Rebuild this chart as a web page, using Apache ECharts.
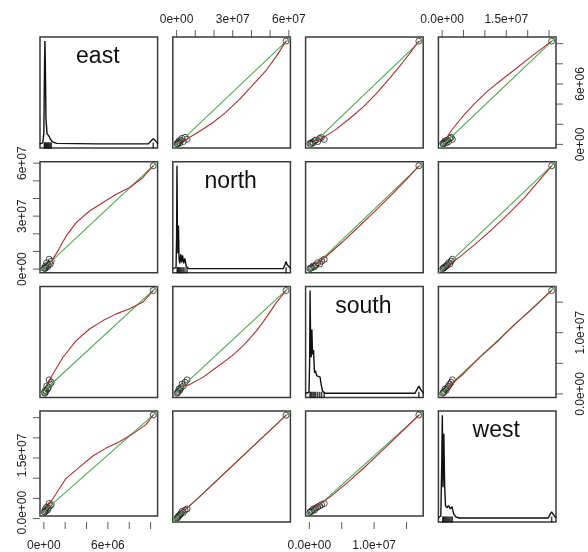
<!DOCTYPE html>
<html>
<head>
<meta charset="utf-8"/>
<title>pairs</title>
<script src="https://cdn.jsdelivr.net/npm/echarts@6/dist/echarts.min.js"></script>
<style>body{margin:0;background:#fff;}</style>
</head>
<body>
<div id="chart" style="width:588px;height:552px;"></div>
<script type="text/javascript">
// all values in millions
var names = ['east', 'north', 'south', 'west'];
var east  = [0.05, 0.1, 0.15, 0.2, 0.28, 0.35, 0.42, 0.5, 0.6, 0.7, 10.25];
var north = [0.6, 0.3, 1.8, 0.9, 3.6, 1.3, 2.3, 5.6, 2.9, 4.5, 58.5];
var south = [0.25, 0.1, 0.6, 0.4, 1.3, 0.8, 1.0, 2.3, 1.6, 1.9, 16.9];
var west  = [0.3, 0.15, 0.95, 0.5, 1.5, 0.7, 1.2, 2.4, 1.8, 2.1, 25.6];

// tick marks and labels
var eastTicks = [0, 2, 4, 6, 8, 10], eastLabelAt = [0, 6], eastLabels = ['0e+00', '6e+06'];
var northTicks = [0, 10, 20, 30, 40, 50, 60], northLabelAt = [0, 30, 60], northLabels = ['0e+00', '3e+07', '6e+07'];
var southTicks = [0, 5, 10, 15], southLabelAt = [0, 10], southLabels = ['0.0e+00', '1.0e+07'];
var westTicks = [0, 5, 10, 15, 20, 25], westLabelAt = [0, 15], westLabels = ['0.0e+00', '1.5e+07'];

// densities on the diagonal (x in millions, y relative)
var eastDensX = [-0.4, -0.1, 0.0, 0.06, 0.1, 0.14, 0.2, 0.3, 0.45, 0.6, 0.8, 1.2, 5, 9.8, 10.05, 10.25, 10.45, 10.7];
var eastDensY = [0, 0.01, 0.1, 0.7, 1.0, 0.8, 0.25, 0.1, 0.08, 0.05, 0.02, 0.005, 0, 0, 0.03, 0.05, 0.03, 0];
var northDensX = [-2.1, -0.3, 0.0, 0.2, 0.45, 0.7, 1.0, 1.3, 1.7, 2.2, 2.7, 3.2, 3.8, 4.4, 5.2, 6.5, 20, 57, 58, 58.5, 59, 61];
var northDensY = [0, 0.01, 0.3, 1.0, 0.35, 0.15, 0.42, 0.1, 0.05, 0.14, 0.06, 0.13, 0.05, 0.1, 0.02, 0, 0, 0, 0.04, 0.07, 0.04, 0];
var southDensX = [-0.6, -0.05, 0.05, 0.12, 0.22, 0.3, 0.4, 0.5, 0.65, 0.8, 0.95, 1.15, 1.4, 1.65, 1.85, 2.05, 2.4, 5, 16.3, 16.65, 16.9, 17.15, 17.6];
var southDensY = [0, 0.01, 0.3, 1.0, 0.4, 0.35, 0.62, 0.38, 0.42, 0.2, 0.22, 0.17, 0.18, 0.16, 0.08, 0.02, 0, 0, 0, 0.04, 0.07, 0.04, 0];
var westDensX = [-0.9, -0.3, -0.1, 0.05, 0.2, 0.4, 0.6, 0.8, 1.1, 1.5, 1.9, 2.3, 2.7, 3.2, 4, 10, 24.8, 25.3, 25.6, 25.9, 26.6];
var westDensY = [0, 0.02, 0.5, 1.0, 0.3, 0.82, 0.3, 0.12, 0.1, 0.12, 0.09, 0.11, 0.04, 0.01, 0, 0, 0, 0.04, 0.06, 0.04, 0];

// smoother curves, smRC = row R (y variable), column C (x variable)
var sm01x = [1.8, 5.3, 11.7, 19.3, 26.3, 33.9, 41.0, 48.0, 53.2, 58.5];
var sm01y = [0.31, 0.51, 1.23, 2.15, 3.18, 4.51, 5.95, 7.38, 8.71, 10.25];
var sm02x = [0.68, 2.03, 4.23, 6.42, 8.45, 10.48, 12.51, 14.37, 15.72, 16.9];
var sm02y = [0.31, 0.62, 1.54, 2.67, 3.79, 5.13, 6.66, 8.10, 9.23, 10.25];
var sm03x = [0.77, 2.05, 4.61, 7.68, 10.75, 14.08, 17.15, 20.22, 23.04, 25.6];
var sm03y = [0.41, 1.33, 2.67, 4.10, 5.33, 6.46, 7.48, 8.51, 9.43, 10.25];
var sm10x = [0.53, 1.31, 2.09, 3.03, 4.28, 5.54, 6.79, 8.04, 9.29, 10.25];
var sm10y = [2.6, 10.2, 18.7, 26.3, 32.9, 37.7, 42.4, 46.2, 51.9, 58.5];
var sm12x = [0.85, 2.54, 5.07, 7.61, 10.14, 12.68, 14.87, 16.9];
var sm12y = [2.3, 7.0, 15.2, 24.0, 32.8, 42.1, 50.3, 58.5];
var sm13x = [1.02, 3.84, 7.68, 11.52, 15.36, 19.2, 22.53, 25.6];
var sm13y = [1.8, 6.4, 14.0, 22.2, 31.0, 40.4, 49.7, 58.5];
var sm20x = [0.22, 0.84, 1.78, 3.03, 4.28, 5.54, 6.79, 8.04, 9.29, 10.25];
var sm20y = [1.30, 3.21, 5.95, 8.70, 10.61, 11.98, 13.08, 13.91, 15.01, 16.9];
var sm21x = [2.9, 7.0, 14.0, 21.6, 29.8, 36.3, 42.7, 48.0, 53.2, 58.5];
var sm21y = [1.18, 1.52, 2.70, 4.39, 6.25, 8.11, 10.31, 12.51, 14.87, 16.9];
var sm23x = [1.28, 5.12, 8.96, 12.8, 16.64, 20.48, 23.04, 25.6];
var sm23y = [1.01, 3.38, 6.08, 8.45, 11.15, 13.52, 15.21, 16.9];
var sm30x = [0.22, 0.84, 2.09, 3.34, 4.59, 5.84, 7.09, 8.34, 9.59, 10.25];
var sm30y = [1.13, 3.64, 9.01, 11.93, 14.85, 16.92, 18.59, 20.66, 23.14, 25.6];
var sm31x = [2.9, 11.7, 20.5, 29.3, 38.0, 46.8, 52.7, 58.5];
var sm31y = [1.54, 5.12, 8.96, 12.8, 16.64, 20.48, 23.04, 25.6];
var sm32x = [0.85, 3.38, 5.92, 8.45, 10.99, 13.52, 15.21, 16.9];
var sm32y = [1.28, 4.35, 7.94, 11.78, 15.87, 19.97, 22.78, 25.6];

var vars = [east, north, south, west];
var ticks = [eastTicks, northTicks, southTicks, westTicks];
var labelAt = [eastLabelAt, northLabelAt, southLabelAt, westLabelAt];
var labels = [eastLabels, northLabels, southLabels, westLabels];
var densX = [eastDensX, northDensX, southDensX, westDensX];
var densY = [eastDensY, northDensY, southDensY, westDensY];
var smooth = {
    '01': [sm01x, sm01y], '02': [sm02x, sm02y], '03': [sm03x, sm03y],
    '10': [sm10x, sm10y], '12': [sm12x, sm12y], '13': [sm13x, sm13y],
    '20': [sm20x, sm20y], '21': [sm21x, sm21y], '23': [sm23x, sm23y],
    '30': [sm30x, sm30y], '31': [sm31x, sm31y], '32': [sm32x, sm32y]
};

var colLeft = [40, 172.8, 305.6, 438.4], panelW = 117.6;
var rowTop = [37, 161.7, 286.4, 411.1], panelH = 111;
var font = 'Liberation Sans, Arial, sans-serif';
var tickLen = 7;

function ext(v) {
    var lo = Math.min.apply(null, v), hi = Math.max.apply(null, v), d = hi - lo;
    return [lo - 0.04 * d, hi + 0.04 * d];
}
function zip(a, b) {
    var out = [];
    for (var i = 0; i < a.length; i++) out.push([a[i], b[i]]);
    return out;
}
function fit(x, y) {
    var n = x.length, mx = 0, my = 0, sxy = 0, sxx = 0;
    for (var i = 0; i < n; i++) { mx += x[i] / n; my += y[i] / n; }
    for (var i = 0; i < n; i++) { sxy += (x[i] - mx) * (y[i] - my); sxx += (x[i] - mx) * (x[i] - mx); }
    var b = sxy / sxx;
    return [my - b * mx, b];
}

function axis(gi, rng, show, pos, v, rot, margin) {
    return {
        type: 'value', gridIndex: gi, min: rng[0], max: rng[1], position: pos,
        axisLine: {show: false, onZero: false},
        splitLine: {show: false},
        axisTick: {show: false},
        axisLabel: {show: show, rotate: rot, margin: margin, fontSize: 12, fontFamily: font, color: '#222',
            customValues: show ? labelAt[v] : undefined,
            formatter: function (val) {
                var k = labelAt[v].indexOf(val);
                return k < 0 ? '' : labels[v][k];
            }}
    };
}
function hidden(gi, rng) {
    return {type: 'value', gridIndex: gi, min: rng[0], max: rng[1], show: false};
}

var grids = [], xAxes = [], yAxes = [], series = [], texts = [];

// a thin strip just outside a panel edge holding its tick marks
function tickStrip(c, r, side, v, rng) {
    var gi = grids.length, horizontal = (side === 'top' || side === 'bottom');
    var g = {left: colLeft[c], top: rowTop[r], width: panelW, height: panelH, show: false};
    if (side === 'top') { g.top = rowTop[r] - tickLen; g.height = tickLen; }
    if (side === 'bottom') { g.top = rowTop[r] + panelH; g.height = tickLen; }
    if (side === 'left') { g.left = colLeft[c] - tickLen; g.width = tickLen; }
    if (side === 'right') { g.left = colLeft[c] + panelW; g.width = tickLen; }
    grids.push(g);
    xAxes.push(hidden(gi, horizontal ? rng : [0, 1]));
    yAxes.push(hidden(gi, horizontal ? [0, 1] : rng));
    var mid = ticks[v].map(function () { return 0.5; });
    series.push({type: 'scatter', xAxisIndex: gi, yAxisIndex: gi, clip: false, silent: true,
        data: horizontal ? zip(ticks[v], mid) : zip(mid, ticks[v]),
        symbol: 'rect', symbolSize: horizontal ? [1, tickLen] : [tickLen, 1],
        itemStyle: {color: '#333'}});
}

var strips = [];
for (var r = 0; r < 4; r++) {
    for (var c = 0; c < 4; c++) {
        var gi = r * 4 + c;
        grids.push({left: colLeft[c], top: rowTop[r], width: panelW, height: panelH,
            show: true, borderColor: '#3a3a3a', borderWidth: 1.5, backgroundColor: 'transparent'});
        var xr = ext(vars[c]);
        var showTop = (r === 0 && (c === 1 || c === 3));
        var showBottom = (r === 3 && (c === 0 || c === 2));
        xAxes.push(axis(gi, xr, showTop || showBottom, showTop ? 'top' : 'bottom', c, 0, showTop ? 11 : 24));
        if (showTop) strips.push([c, r, 'top', c, xr]);
        if (showBottom) strips.push([c, r, 'bottom', c, xr]);
        if (r === c) {
            yAxes.push(hidden(gi, [-0.04, 1.04]));
            series.push({type: 'line', xAxisIndex: gi, yAxisIndex: gi, data: zip(densX[c], densY[c]),
                showSymbol: false, silent: true, lineStyle: {color: '#111', width: 1.4}});
            var rugY = vars[c].map(function () { return -0.015; });
            series.push({type: 'scatter', xAxisIndex: gi, yAxisIndex: gi, data: zip(vars[c], rugY),
                symbol: 'rect', symbolSize: [1.5, 6], itemStyle: {color: '#111'}, silent: true});
            texts.push({type: 'text', x: colLeft[c] + panelW / 2 - 1, y: rowTop[r] + 20,
                style: {text: names[c], font: '23px ' + font, fill: '#111',
                    textAlign: 'center', textVerticalAlign: 'middle'}});
        } else {
            var yr = ext(vars[r]);
            var showLeft = (c === 0 && (r === 1 || r === 3));
            var showRight = (c === 3 && (r === 0 || r === 2));
            yAxes.push(axis(gi, yr, showLeft || showRight, showRight ? 'right' : 'left', r, 90, showRight ? 19 : 11));
            if (showLeft) strips.push([c, r, 'left', r, yr]);
            if (showRight) strips.push([c, r, 'right', r, yr]);
            series.push({type: 'scatter', xAxisIndex: gi, yAxisIndex: gi, data: zip(vars[c], vars[r]),
                symbol: 'circle', symbolSize: 6, silent: true,
                itemStyle: {color: 'transparent', borderColor: '#222', borderWidth: 1}});
            var ab = fit(vars[c], vars[r]);
            series.push({type: 'line', xAxisIndex: gi, yAxisIndex: gi, showSymbol: false, silent: true,
                data: [[xr[0], ab[0] + ab[1] * xr[0]], [xr[1], ab[0] + ab[1] * xr[1]]],
                lineStyle: {color: '#4fa94f', width: 1.1}});
            var sm = smooth['' + r + c];
            series.push({type: 'line', xAxisIndex: gi, yAxisIndex: gi, showSymbol: false, silent: true,
                data: zip(sm[0], sm[1]), lineStyle: {color: '#a83232', width: 1.1}});
        }
    }
}
strips.forEach(function (s) { tickStrip(s[0], s[1], s[2], s[3], s[4]); });

var chart = echarts.init(document.getElementById('chart'), null, {renderer: 'canvas'});
chart.setOption({
    backgroundColor: '#fff',
    animation: false,
    grid: grids,
    xAxis: xAxes,
    yAxis: yAxes,
    series: series,
    graphic: texts
});
</script>
</body>
</html>
